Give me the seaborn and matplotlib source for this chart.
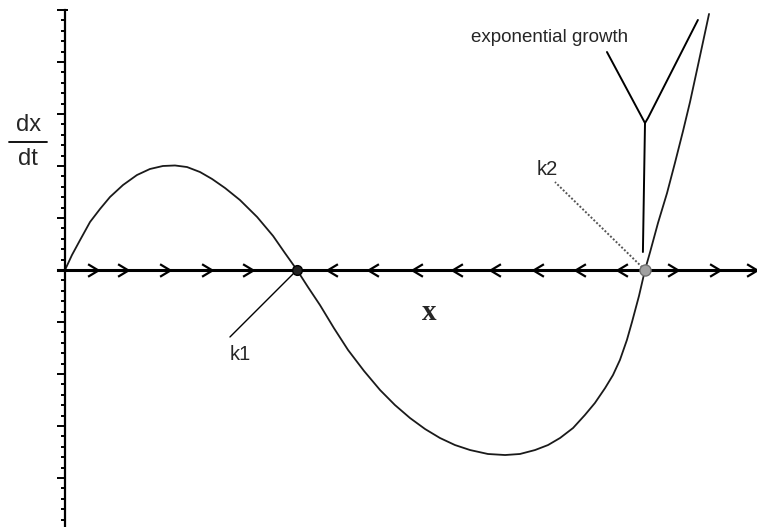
import numpy as np
import pandas as pd
import matplotlib
matplotlib.use("Agg")
import matplotlib.pyplot as plt
from matplotlib.path import Path
from matplotlib.ticker import MultipleLocator, NullFormatter
import seaborn as sns

# population x (k1 = 1) and growth rate dx/dt
x_vals = [0, 0.030, 0.065, 0.108, 0.151, 0.194, 0.250, 0.310, 0.366, 0.422, 0.474,
          0.526, 0.582, 0.634, 0.690, 0.754, 0.828, 0.897, 0.948, 1.0,
          1.047, 1.099, 1.159, 1.220, 1.289, 1.358, 1.422, 1.487, 1.552, 1.616,
          1.681, 1.746, 1.823, 1.897, 1.961, 2.026, 2.082, 2.134, 2.190, 2.241,
          2.284, 2.328, 2.362, 2.392, 2.422, 2.444, 2.474, 2.5,
          2.522, 2.556, 2.595, 2.629, 2.664, 2.694, 2.724, 2.750, 2.776]
dxdt_vals = [0, 1.44, 2.88, 4.62, 5.87, 7.02, 8.17, 9.13, 9.71, 10.0, 10.05,
             9.90, 9.42, 8.75, 7.88, 6.73, 5.10, 3.27, 1.63, 0,
             -1.63, -3.37, -5.58, -7.69, -9.71, -11.54, -12.98, -14.23, -15.29, -16.15,
             -16.83, -17.31, -17.69, -17.79, -17.69, -17.31, -16.83, -16.15, -15.19, -13.94,
             -12.79, -11.35, -10.10, -8.65, -6.73, -5.00, -2.50, 0,
             1.73, 4.52, 7.40, 10.29, 13.37, 16.15, 19.23, 21.92, 24.62]

# equilibria
k1, k2 = 1.0, 2.5

# flow direction arrows along the x axis
right_arrows = [0.142, 0.272, 0.453, 0.634, 0.810, 2.642, 2.823, 2.983]
left_arrows = [1.129, 1.306, 1.496, 1.668, 1.832, 2.017, 2.198, 2.379]

df = pd.DataFrame({"x": x_vals, "dxdt": dxdt_vals})

sns.set_style("white")
plt.rcParams["font.family"] = ["Liberation Sans", "DejaVu Sans"]

fig = plt.figure(figsize=(7.57, 5.27), dpi=100)
ax = fig.add_axes([0, 0, 1, 1])

sns.lineplot(data=df, x="x", y="dxdt", sort=False, estimator=None,
             color="#1a1a1a", linewidth=1.3, ax=ax)

# chevrons
chev_r = Path([(-1, 0.6), (0, 0), (-1, -0.6)], [Path.MOVETO, Path.LINETO, Path.LINETO])
chev_l = Path([(1, 0.6), (0, 0), (1, -0.6)], [Path.MOVETO, Path.LINETO, Path.LINETO])
ax.plot(right_arrows, [0] * len(right_arrows), linestyle="none", marker=chev_r,
        markersize=15, markerfacecolor="none", markeredgecolor="black",
        markeredgewidth=1.6, zorder=4)
ax.plot(left_arrows, [0] * len(left_arrows), linestyle="none", marker=chev_l,
        markersize=15, markerfacecolor="none", markeredgecolor="black",
        markeredgewidth=1.6, zorder=4)

# equilibrium points
ax.plot([k1], [0], marker="o", markersize=7, markerfacecolor="#222222",
        markeredgecolor="black", zorder=5)
ax.plot([k2], [0], marker="o", markersize=8, markerfacecolor="#a0a0a0",
        markeredgecolor="#707070", zorder=5)

# labels for equilibria
ax.plot([k1, 0.711], [0, -6.44], color="black", linewidth=1.0)
ax.text(0.754, -7.2, "k1", fontsize=14.5, ha="center", va="top")
ax.plot([k2, 2.112], [0, 8.46], color="#555555", linewidth=1.4, linestyle=(0, (1, 1)))
ax.text(2.078, 9.13, "k2", fontsize=14.5, ha="center", va="baseline")

# exponential growth pointer
ax.text(1.75, 21.92, "exponential growth", fontsize=13.5, ha="left", va="baseline")
ax.plot([2.336, 2.5, 2.496, 2.491], [20.96, 14.13, 8.65, 1.73], color="black", linewidth=1.4)
ax.plot([2.728, 2.513, 2.5], [24.04, 14.62, 14.13], color="black", linewidth=1.4)

# axis labels
ax.text(1.569, -4.13, "x", fontsize=21, fontweight="bold", ha="center", va="center",
        family=["Liberation Serif", "DejaVu Serif"])
ax.text(-0.159, 13.9, "dx", fontsize=17, ha="center", va="center")
ax.text(-0.159, 10.7, "dt", fontsize=17, ha="center", va="center")
ax.plot([-0.241, -0.078], [12.3, 12.3], color="black", linewidth=1.3, clip_on=False)

# axes
ax.set_xlim(-65 / 232, 692 / 232)
ax.set_ylim(-24.71, 25.96)
for s in ["top", "right"]:
    ax.spines[s].set_visible(False)
ax.spines["left"].set_position(("data", 0))
ax.spines["left"].set_bounds(-24.71, 25)
ax.spines["left"].set_linewidth(1.6)
ax.spines["bottom"].set_position(("data", 0))
ax.spines["bottom"].set_bounds(-0.03, 692 / 232)
ax.spines["bottom"].set_linewidth(2.2)
ax.spines["left"].set_color("black")
ax.spines["bottom"].set_color("black")
# small hook at the top of the y axis
ax.plot([0, 0.014], [25, 25], color="black", linewidth=1.4, solid_capstyle="butt")

ax.set_xticks([])
ax.yaxis.set_major_locator(MultipleLocator(5))
ax.yaxis.set_minor_locator(MultipleLocator(1))
ax.yaxis.set_major_formatter(NullFormatter())
ax.tick_params(axis="y", which="major", direction="out", length=6, width=1.4,
               color="black", left=True)
ax.tick_params(axis="y", which="minor", direction="out", length=3, width=1.4,
               color="black", left=True)
ax.set_xlabel("")
ax.set_ylabel("")
ax.patch.set_alpha(0)

fig.savefig("out.png", dpi=100, facecolor="white")
